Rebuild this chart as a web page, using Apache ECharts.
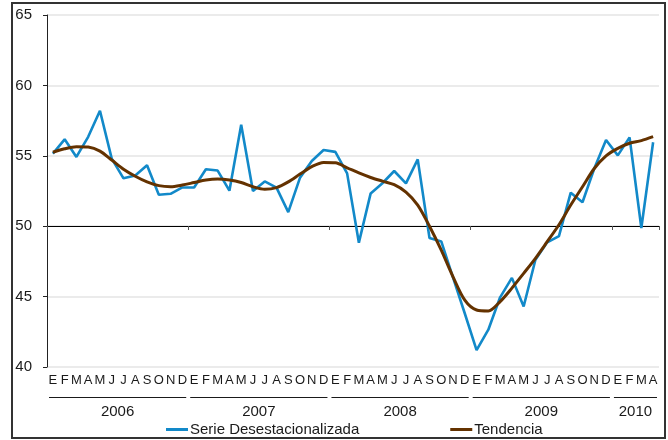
<!DOCTYPE html>
<html style="height: 100%">
<head>
<meta charset="utf-8">
</head>
<body style="height: 100%; margin: 0; background: #fff">
<div id="container" style="width: 668px; height: 440px"></div>
<script src="https://cdn.jsdelivr.net/npm/echarts@6/dist/echarts.min.js"></script>
<script>
// month letters, Jan 2006 .. Apr 2010
var monthNames = ['E','F','M','A','M','J','J','A','S','O','N','D'];
var months = [];
for (var y = 0; y < 4; y++) months = months.concat(monthNames);
months = months.concat(['E','F','M','A']);

var years = ['2006', '2007', '2008', '2009', '2010'];
var yearStart = [0, 12, 24, 36, 48];
var yearEnd = [12, 24, 36, 48, 52];

var serie = [
    55.15, 56.17, 54.92, 56.35, 58.2, 54.8, 53.4, 53.6, 54.33, 52.23, 52.3, 52.75,
    52.75, 54.05, 53.95, 52.52, 57.21, 52.5, 53.18, 52.74, 51.0, 53.45, 54.63, 55.41,
    55.28, 53.75, 48.83, 52.33, 53.05, 53.92, 53.04, 54.75, 49.16, 48.92, 46.35, 43.8,
    41.2, 42.65, 44.95, 46.33, 44.3, 47.62, 48.85, 49.3, 52.38, 51.7, 54.1, 56.12,
    55.03, 56.31, 49.87, 55.96
];
var tendencia = [
    55.25, 55.5, 55.65, 55.62, 55.33, 54.7, 54.05, 53.55, 53.15, 52.88, 52.8, 52.92,
    53.1, 53.28, 53.35, 53.28, 53.1, 52.8, 52.62, 52.74, 53.15, 53.7, 54.23, 54.53,
    54.5, 54.15, 53.78, 53.46, 53.2, 52.95, 52.42, 51.5, 50.0, 48.3, 46.4, 44.75,
    44.05, 43.98, 44.64, 45.6, 46.65, 47.72, 48.9, 50.1, 51.5, 52.8, 54.1, 55.0,
    55.53, 55.89, 56.08, 56.36
];

var font = 'Liberation Sans, Arial, sans-serif';
var myChart = echarts.init(document.getElementById('container'));

var option = {
    animation: false,
    grid: { left: 47, right: 9, top: 15, bottom: 73 },
    legend: {
        left: 166,
        top: 422,
        padding: 0,
        itemGap: 91,
        itemWidth: 22,
        itemHeight: 3,
        icon: 'rect',
        textStyle: { fontFamily: font, fontSize: 15, color: '#1a1a1a', padding: [0, 0, 0, -3] },
        data: ['Serie Desestacionalizada', 'Tendencia']
    },
    xAxis: [{
        type: 'category',
        data: months,
        boundaryGap: true,
        axisLine: { show: false },
        axisTick: { show: false },
        axisLabel: { interval: 0, margin: 7, fontFamily: font, fontSize: 13, color: '#1a1a1a' }
    }, {
        // axis line crossing at 50
        type: 'category',
        data: months,
        position: 'bottom',
        offset: -141,
        axisLine: { show: true, lineStyle: { color: '#000', width: 1.2 } },
        axisTick: {
            show: true, length: 4, lineStyle: { color: '#555' },
            interval: function (i) { return i % 12 === 0; }
        },
        axisLabel: { show: false }
    }, {
        // year labels
        type: 'value',
        min: 0,
        max: 52,
        interval: 1,
        position: 'bottom',
        axisLine: { show: false },
        axisTick: { show: false },
        splitLine: { show: false },
        axisLabel: {
            margin: 37,
            fontFamily: font,
            fontSize: 15,
            color: '#1a1a1a',
            formatter: function (v) {
                for (var i = 0; i < years.length; i++) {
                    if (v === (yearStart[i] + yearEnd[i]) / 2) return years[i];
                }
                return '';
            }
        }
    }],
    yAxis: {
        type: 'value',
        min: 40,
        max: 65,
        interval: 5,
        axisLine: { show: true, lineStyle: { color: '#222' } },
        axisTick: { show: true, length: 4, lineStyle: { color: '#222' } },
        splitLine: { show: true, lineStyle: { color: '#e4e4e4', width: 1.5 } },
        axisLabel: { margin: 15, fontFamily: font, fontSize: 15, color: '#1a1a1a' }
    },
    series: [{
        name: 'Serie Desestacionalizada',
        type: 'line',
        data: serie,
        symbol: 'none',
        itemStyle: { color: '#1289c9' },
        lineStyle: { color: '#1289c9', width: 2.6 },
        z: 3
    }, {
        name: 'Tendencia',
        type: 'line',
        data: tendencia,
        symbol: 'none',
        smooth: 0.3,
        itemStyle: { color: '#643200' },
        lineStyle: { color: '#643200', width: 3 },
        z: 4
    }]
};

myChart.setOption(option);

// year separator lines under month letters, plus the outer frame
var graphics = [{
    type: 'rect',
    shape: { x: 12, y: 3, width: 653, height: 435 },
    style: { fill: 'none', stroke: '#333', lineWidth: 2 }
}];
for (var i = 0; i < years.length; i++) {
    var x0 = myChart.convertToPixel({ xAxisIndex: 2 }, yearStart[i]) + 2;
    var x1 = myChart.convertToPixel({ xAxisIndex: 2 }, yearEnd[i]) - 2;
    graphics.push({
        type: 'line',
        shape: { x1: x0, y1: 397.5, x2: x1, y2: 397.5 },
        style: { stroke: '#1a1a1a', lineWidth: 1 }
    });
}
myChart.setOption({ graphic: graphics });
</script>
</body>
</html>
